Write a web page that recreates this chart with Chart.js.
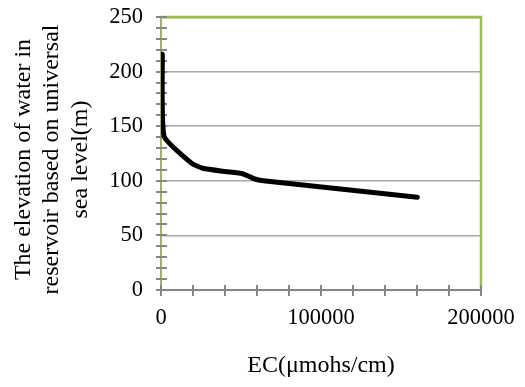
<!DOCTYPE html>
<html>
<head>
<meta charset="utf-8">
<script src="https://cdn.jsdelivr.net/npm/chart.js@4.4.1/dist/chart.umd.min.js"></script>
<style>
  html, body { margin: 0; padding: 0; background: #fff; }
  #wrap { width: 525px; height: 387px; }
</style>
</head>
<body>
<div id="wrap"><canvas id="myChart"></canvas></div>
<script>
// EC vs water elevation
const ecValues = [800, 1900, 19200, 26000, 40000, 51000, 58000, 64000, 160200];
const elevValues = [216, 141, 116, 111.5, 108.5, 106.5, 102, 100, 85];
const xTicks = [0, 100000, 200000];
const yTicks = [0, 50, 100, 150, 200, 250];
const xTitle = "EC(μmohs/cm)";
// trailing spaces nudge the rotated title down a little, like the original
const yTitle = ["The elevation of water in  ", "reservoir based on universal  ", "sea level(m)  "];

const serif = "'Liberation Serif', 'Times New Roman', serif";
const green = "#9BBB59";
const tickGray = "#868686";

// small cross ticks like excel + green frame
const frame = {
    id: 'frame',
    beforeDatasetsDraw(chart) {
        const ctx = chart.ctx;
        const a = chart.chartArea;
        const xs = chart.scales.x, ys = chart.scales.y;
        ctx.save();
        ctx.strokeStyle = green;
        ctx.lineWidth = 2.5;
        ctx.beginPath();
        ctx.moveTo(a.left, a.top);
        ctx.lineTo(a.right, a.top);
        ctx.lineTo(a.right, a.bottom);
        ctx.stroke();
        ctx.strokeStyle = tickGray;
        ctx.lineWidth = 2;
        ctx.beginPath();
        for (let v = ys.min; v <= ys.max; v += 10) {
            const y = Math.round(ys.getPixelForValue(v));
            ctx.moveTo(a.left - 5, y);
            ctx.lineTo(a.left + 6, y);
        }
        for (let v = xs.min; v <= xs.max; v += 20000) {
            const x = Math.round(xs.getPixelForValue(v));
            ctx.moveTo(x, a.bottom - 5);
            ctx.lineTo(x, a.bottom + 6);
        }
        ctx.stroke();
        ctx.restore();
    }
};

new Chart(document.getElementById("myChart"), {
    type : 'scatter',
    data : {
        datasets: [
            {
            data: ecValues.map((x, i) => ({ x: x, y: elevValues[i] })),
            showLine: true,
            borderColor: "#000000",
            borderWidth: 5,
            borderCapStyle: 'round',
            borderJoinStyle: 'round',
            tension: 0.15,
            pointRadius: 0,
            },
        ],
    },
    options : {
        responsive: true,
        maintainAspectRatio: false,
        animation: false,
        layout: { padding: { top: 17, right: 44, left: 0, bottom: 0 } },
        scales: {
            x: {
                type: 'linear',
                min: 0,
                max: 200000,
                afterBuildTicks: s => { s.ticks = xTicks.map(v => ({ value: v })); },
                afterFit: s => { s.height = 97; },
                grid: { display: false, drawTicks: true, tickLength: 15 },
                border: { display: true, color: tickGray, width: 2 },
                ticks: {
                    padding: 0,
                    color: "#000",
                    maxRotation: 0,
                    font: { family: serif, size: 22.5 },
                    callback: v => String(v),
                },
                title: {
                    display: true,
                    text: xTitle,
                    color: "#000",
                    font: { family: serif, size: 24, lineHeight: 1.2 },
                    padding: { top: 0, bottom: 7 },
                },
            },
            y: {
                min: 0,
                max: 250,
                afterBuildTicks: s => { s.ticks = yTicks.map(v => ({ value: v })); },
                afterFit: s => { s.width = 161; },
                grid: {
                    drawTicks: true,
                    tickLength: 18,
                    tickColor: 'rgba(0,0,0,0)',
                    color: c => c.tick && c.tick.value === 250 ? green : "#A6A6A6",
                    lineWidth: c => c.tick && c.tick.value === 250 ? 2.5 : 1.5,
                },
                border: { display: true, color: "#9DB06E", width: 2 },
                ticks: {
                    padding: 0,
                    color: "#000",
                    font: { family: serif, size: 22.5 },
                    callback: v => String(v),
                },
                title: {
                    display: true,
                    text: yTitle,
                    color: "#000",
                    font: { family: serif, size: 24, lineHeight: 1.2 },
                    padding: { top: 9, bottom: 0 },
                },
            },
        },
        hover: { mode: null },
        plugins: {
            legend: { display: false },
            tooltip: { enabled: false },
        },
    },
    plugins: [frame],
});
</script>
</body>
</html>
